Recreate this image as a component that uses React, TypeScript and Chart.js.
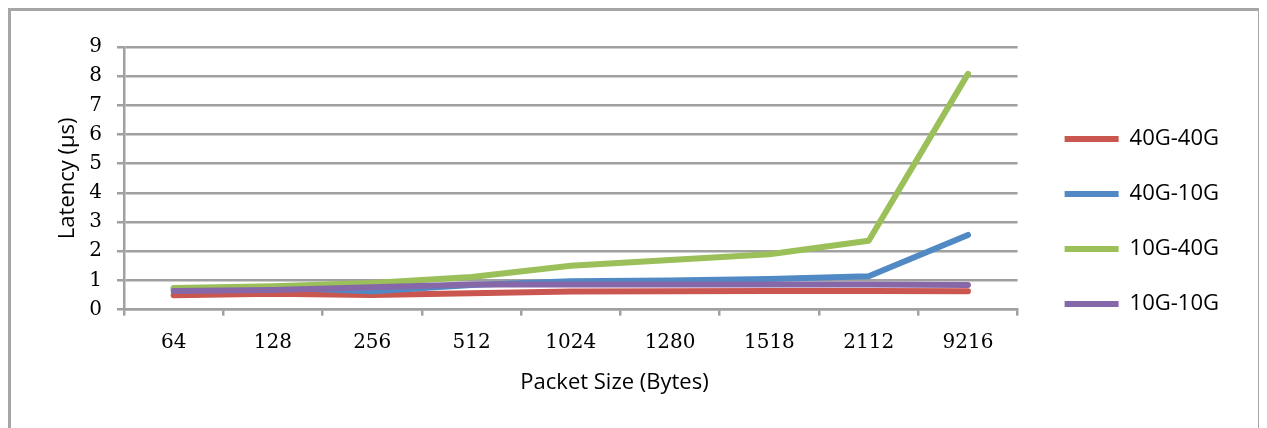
import React, { useEffect, useRef } from "react";
import { Chart, registerables } from "chart.js";

Chart.register(...registerables);

const packetSizes = ["64", "128", "256", "512", "1024", "1280", "1518", "2112", "9216"];
const lat40Gto40G = [0.49, 0.54, 0.5, 0.56, 0.62, 0.63, 0.64, 0.64, 0.63];
const lat40Gto10G = [0.72, 0.76, 0.63, 0.84, 0.97, 1.0, 1.05, 1.14, 2.56];
const lat10Gto40G = [0.74, 0.8, 0.91, 1.12, 1.5, 1.7, 1.9, 2.36, 8.08];
const lat10Gto10G = [0.64, 0.67, 0.77, 0.86, 0.86, 0.86, 0.86, 0.86, 0.84];
const seriesNames = ["40G-40G", "40G-10G", "10G-40G", "10G-10G"];
const seriesColors = ["#c9564f", "#5189c4", "#9bbf59", "#8668a9"];
const yMin = 0;
const yMax = 9;
const yStep = 1;
const xTitle = "Packet Size (Bytes)";
const yTitle = "Latency (µs)";

const GRID = "#a0a0a0";

export default function App() {
  const ref = useRef<HTMLCanvasElement | null>(null);

  useEffect(() => {
    if (!ref.current) return;
    const seriesValues = [lat40Gto40G, lat40Gto10G, lat10Gto40G, lat10Gto10G];
    const chart = new Chart(ref.current, {
      type: "line",
      data: {
        labels: packetSizes,
        datasets: seriesNames.map((name, i) => ({
          label: name,
          data: seriesValues[i],
          borderColor: seriesColors[i],
          backgroundColor: seriesColors[i],
          borderWidth: 6,
          borderCapStyle: "round" as const,
          borderJoinStyle: "round" as const,
          pointRadius: 0,
          tension: 0,
          order: seriesNames.length - 1 - i,
          yAxisID: "y",
        })),
      },
      options: {
        responsive: false,
        animation: false,
        layout: { padding: { top: 36, bottom: 32, left: 0, right: 29 } },
        plugins: {
          tooltip: { enabled: false },
          legend: {
            position: "right",
            maxWidth: 300,
            labels: {
              usePointStyle: true,
              pointStyle: "line",
              pointStyleWidth: 54,
              padding: 33,
              color: "#000",
              font: { family: "Open Sans", size: 22 },
              sort: (a: any, b: any) => a.datasetIndex - b.datasetIndex,
            },
          },
          title: {
            display: true,
            position: "bottom",
            text: xTitle,
            color: "#000",
            padding: 0,
            font: { family: "Open Sans", size: 22, weight: "normal" },
          },
        },
        scales: {
          x: {
            type: "category",
            offset: true,
            grid: {
              offset: true,
              drawOnChartArea: false,
              drawTicks: true,
              tickLength: 6,
              color: GRID,
              lineWidth: 2.5,
            },
            border: { display: true, color: GRID, width: 2.5 },
            ticks: {
              color: "#000",
              padding: 15,
              maxRotation: 0,
              font: { family: "DejaVu Serif", size: 20 },
            },
            afterFit: (s: any) => {
              s.height = 60;
            },
          },
          y: {
            position: "left",
            min: yMin,
            max: yMax,
            ticks: {
              stepSize: yStep,
              color: "#000",
              padding: 15,
              font: { family: "DejaVu Serif", size: 20 },
            },
            grid: {
              color: GRID,
              lineWidth: 2.5,
              drawTicks: true,
              tickLength: 7,
            },
            border: { display: true, color: GRID, width: 2.5 },
            title: {
              display: true,
              text: yTitle,
              color: "#000",
              padding: { top: 55, bottom: 0 },
              font: { family: "Open Sans", size: 22 },
            },
            afterFit: (s: any) => {
              s.width = 124;
            },
          },
          y2: {
            position: "right",
            display: true,
            grid: { display: false, drawTicks: false },
            border: { display: false },
            ticks: { display: false },
            afterFit: (s: any) => {
              s.width = 14;
            },
          },
        },
      },
    } as any);
    return () => chart.destroy();
  }, []);

  return (
    <div style={{ position: "relative", height: 420 }}>
      <div
        style={{
          position: "absolute",
          left: 0,
          top: 0,
          width: 1247,
          height: 417,
          border: "3px solid #a6a6a6",
          borderBottom: "none",
        }}
      />
      <canvas
        ref={ref}
        width={1258}
        height={417}
        style={{ position: "absolute", left: -8, top: 3, width: 1258, height: 417 }}
      />
    </div>
  );
}
